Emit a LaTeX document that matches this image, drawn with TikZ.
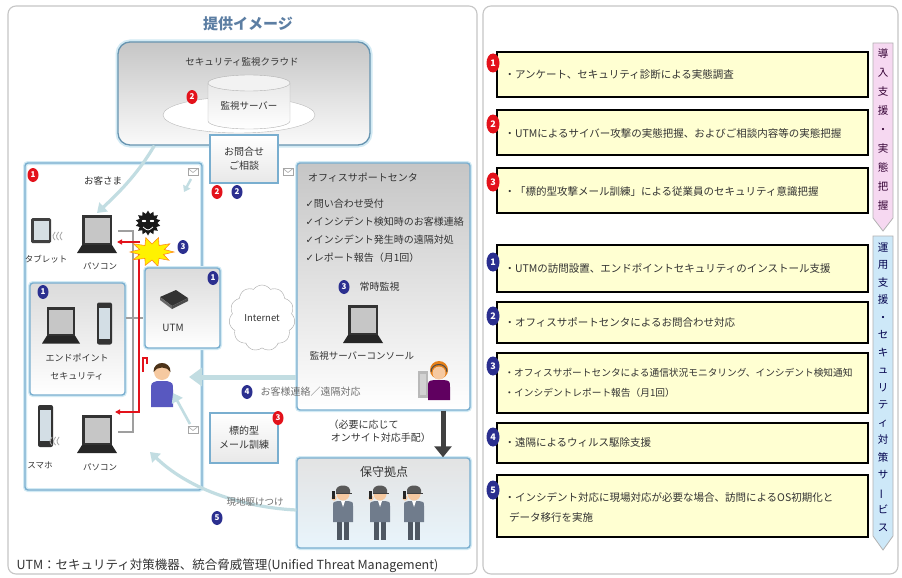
\documentclass[tikz,border=0pt]{standalone}
\usepackage{fontspec}
\setmainfont{Noto Sans CJK JP}
\newfontfamily\symf{DejaVu Sans}
\usetikzlibrary{arrows.meta,shapes.geometric,shapes.symbols,calc}

\definecolor{bred}{HTML}{E3121B}
\definecolor{bblue}{HTML}{2B2F8F}
\definecolor{edge}{HTML}{79AECF}
\definecolor{glow}{HTML}{D2EAF4}
\definecolor{flow}{HTML}{C2DDE2}
\definecolor{ttl}{HTML}{5C7EA3}
\definecolor{notefill}{HTML}{FFFFD2}
\definecolor{txt}{HTML}{333333}
\definecolor{skin}{HTML}{F6C9A0}
\definecolor{suit}{HTML}{707C8C}
\definecolor{pinktag}{HTML}{F6D8F1}
\definecolor{bluetag}{HTML}{CDE8F8}

\tikzset{
  fs/.style 2 args={font=\fontsize{#1}{#2}\selectfont},
  badge/.style={ellipse, fill=#1, text=white, inner sep=0pt,
    minimum width=11pt, minimum height=14pt, font=\fontsize{8}{8}\selectfont\bfseries},
  rbadge/.style={badge=#1, minimum width=13pt, minimum height=19pt,
    font=\fontsize{9}{9}\selectfont\bfseries},
  panel/.style={draw=gray!45, line width=1.1pt, rounded corners=8pt, fill=white},
  grpbox/.style={draw=edge, line width=1.4pt, rounded corners=3pt,
    preaction={draw=glow, line width=4pt}},
  smallbox/.style={draw=edge, line width=1.4pt, top color=white, bottom color=gray!18,
    align=center, fs={10}{14}},
  notebox/.style={draw=black, line width=2pt, fill=notefill},
  notetext/.style={anchor=west, align=left, fs={10.5}{20}, text=txt},
  flowarrow/.style={draw=flow, line width=3.2pt, -{Triangle[length=9pt,width=12pt]}},
  laptop/.pic={
    \fill[black!80] (-15,-28) rectangle (15,2);
    \fill[gray!45] (-12.5,-25.5) rectangle (12.5,0);
    \fill[black!85] (-15,2) -- (15,2) -- (20,10) -- (-20,10) -- cycle;
  },
  phone/.pic={
    \fill[black!80, rounded corners=2pt] (-7.5,-21) rectangle (7.5,21);
    \fill[bluetag!70!gray!60] (-5.5,-16) rectangle (5.5,15);
  },
  envelope/.pic={
    \draw[gray!70, fill=white, line width=0.6pt] (-5,-3.5) rectangle (5,3.5);
    \draw[gray!70, line width=0.6pt] (-5,-3.5) -- (0,0.5) -- (5,-3.5);
  },
  waves/.pic={
    \foreach \i in {0,3.5,7}
      \draw[gray!70, line width=0.8pt] ({\i+5*cos(125)},{5*sin(125)}) arc[start angle=125, end angle=235, radius=5];
  },
  staff/.pic={
    \fill[suit!70!black] (-6,18) rectangle (-1,46);
    \fill[suit!70!black] (1,18) rectangle (6,46);
    \fill[suit] (-10,28) -- (-10,12) .. controls (-10,8) .. (-5,7) -- (5,7) .. controls (10,8) .. (10,12) -- (10,28) -- cycle;
    \fill[white] (-2,7) -- (2,7) -- (0,13) -- cycle;
    \fill[skin] (0,0) circle (6.5);
    \fill[black!65] (-7,-1) -- (-7,-4) .. controls (-6,-10) and (6,-10) .. (7,-4) -- (7,-1) -- cycle;
    \fill[black!75] (-7,-1.5) rectangle (9,0.3);
    \fill[skin] (-9,4) circle (2.6);
    \fill[black!85] (-11,-3) rectangle (-8,5);
  }
}

\begin{document}
\begin{tikzpicture}[x=1pt, y=-1pt, fs={10}{12}, text=txt]
\useasboundingbox (0,0) rectangle (902,578);
\fill[white] (0,0) rectangle (902,578);

% ---------- two panels ----------
\node[panel, minimum width=469, minimum height=568] (leftpanel) at (242.5,290) {};
\node[panel, minimum width=415, minimum height=568] (rightpanel) at (690.5,290) {};

\node[font={\fontsize{15}{15}\selectfont\bfseries}, text=ttl] (title) at (248,24) {提供イメージ};

% ---------- security monitoring cloud ----------
\node[draw=edge!85!black, line width=1.3pt, rounded corners=12pt, top color=gray!45, bottom color=gray!4,
      preaction={draw=glow, line width=5pt}, minimum width=252, minimum height=103] (cloud) at (244,93.5) {};
\node[fs={9.5}{10}] (cloudlbl) at (242,62) {セキュリティ監視クラウド};
\node[ellipse, draw=gray!55, fill=white, minimum width=152, minimum height=36] (dish) at (239,115) {};
\path[draw=gray!60, top color=gray!18, bottom color=white]
  (208,83) -- (208,121) arc[start angle=180, end angle=0, x radius=41, y radius=8] -- (290,83) -- cycle;
\draw[gray!60, fill=gray!10] (249,83) ellipse [x radius=41, y radius=8];
\node[fs={9.5}{10}] (server) at (249,106) {監視サーバー};
\node[badge=bred] (r2a) at (192,97) {2};

% ---------- inquiry box ----------
\node[smallbox, minimum width=68, minimum height=48] (inq) at (244,159) {お問合せ\\ご相談};
\node[badge=bred] (r2b) at (217,192) {2};
\node[badge=bblue] (b2a) at (237,192) {2};

% ---------- customer site ----------
\node[grpbox, minimum width=177, minimum height=327] (cust) at (113.5,326.5) {};
\node[badge=bred] (r1a) at (33,175) {1};
\node[fs={9.5}{10}] (custlbl) at (103,181) {お客さま};

% tablet and PC
\fill[black!75, rounded corners=1.5pt] (31,218) rectangle (51,243);
\fill[bluetag!60!gray!50] (33.5,221) rectangle (48.5,240);
\pic at (58,236) {waves};
\pic at (97,243) {laptop};
\coordinate (pc1) at (97,213);
\node[fs={8.5}{9}] (tabletlbl) at (46,259) {タブレット};
\node[fs={8.5}{9}] (pc1lbl) at (100,266) {パソコン};

% endpoint security
\node[grpbox, top color=gray!28, bottom color=white, minimum width=95, minimum height=112] (endp) at (77.5,339) {};
\node[badge=bblue] (b1a) at (43,292) {1};
\pic[scale=0.95] at (61,334) {laptop};
\pic at (104.5,323.5) {phone};
\node[fs={9}{18}, align=center] (endplbl) at (77,367) {エンドポイント\\セキュリティ};

% smartphone and PC at the bottom
\pic at (45.5,426) {phone};
\pic at (55,441) {waves};
\pic at (97,443) {laptop};
\coordinate (pc2) at (118,432);
\node[fs={8.5}{9}] (phonelbl) at (40,465) {スマホ};
\node[fs={8.5}{9}] (pc2lbl) at (100,467) {パソコン};

% cabling and attack path
\draw[gray!75, line width=1.4pt] (118,231) -- (133,231) -- (133,432) -- (pc2);
\draw[gray!75, line width=1.4pt] (endp.east |- 0,318) -- (145,318);
\draw[bred, line width=1.4pt, -{Triangle[length=5pt,width=5pt]}] (140,242) -- (117,242);
\draw[bred, line width=1.4pt, -{Triangle[length=5pt,width=5pt]}] (139,250) -- (139,412) -- (115,412);
\draw[bred, line width=1.2pt] (143,372) -- (143,358) -- (147,358) -- (147,364);

% virus
\node[star, star points=14, star point ratio=1.35, fill=black!90, minimum size=25pt, inner sep=0pt] (virus) at (148,223) {};
\fill[white] (144,221) ellipse [x radius=2.2, y radius=1.1];
\fill[white] (152,221) ellipse [x radius=2.2, y radius=1.1];
\draw[white, line width=0.8pt] (143,227) .. controls (148,231) .. (153,227);

% explosion
\filldraw[fill=yellow, draw=orange!90, line width=0.6pt]
  (174,252) -- ({152+12*cos(18)},{252+8*sin(18)}) -- ({152+21*cos(36)},{252+14*sin(36)})
  -- ({152+12*cos(54)},{252+8*sin(54)}) -- ({152+19*cos(72)},{252+15*sin(72)})
  -- ({152+12*cos(90)},{252+8*sin(90)}) -- ({152+22*cos(108)},{252+14*sin(108)})
  -- ({152+12*cos(126)},{252+8*sin(126)}) -- ({152+23*cos(144)},{252+13*sin(144)})
  -- ({152+13*cos(162)},{252+8*sin(162)}) -- ({152+22*cos(180)},{252+12*sin(180)})
  -- ({152+13*cos(198)},{252+8*sin(198)}) -- ({152+23*cos(216)},{252+14*sin(216)})
  -- ({152+12*cos(234)},{252+8*sin(234)}) -- ({152+20*cos(252)},{252+15*sin(252)})
  -- ({152+12*cos(270)},{252+8*sin(270)}) -- ({152+21*cos(288)},{252+15*sin(288)})
  -- ({152+12*cos(306)},{252+8*sin(306)}) -- ({152+22*cos(324)},{252+14*sin(324)})
  -- ({152+13*cos(342)},{252+8*sin(342)}) -- cycle;
\node[badge=bblue] (b3a) at (183,247) {3};

% UTM
\node[grpbox, top color=gray!28, bottom color=white, minimum width=75, minimum height=80] (utm) at (182.5,308) {};
\node[badge=bblue] (b1b) at (213,278) {1};
\fill[black!80] (160,297) -- (176,290) -- (188,298) -- (172,306) -- cycle;
\fill[black!60] (160,297) -- (172,306) -- (172,309) -- (160,300) -- cycle;
\fill[black!70] (172,306) -- (188,298) -- (188,301) -- (172,309) -- cycle;
\node[fs={10}{10}] (utmlbl) at (173,328) {UTM};

% Internet
\node[cloud, cloud puffs=11, cloud puff arc=110, aspect=1.1, draw=gray!70, fill=white,
      minimum width=66, minimum height=66, fs={9.5}{10}] (inet) at (262,318) {Internet};

% customer user
\fill[blue!45!gray!90] (151,407) -- (151,390) .. controls (151,383) .. (157,381) -- (167,381) .. controls (173,383) .. (173,390) -- (173,407) -- cycle;
\fill[skin] (162,372) circle (8);
\fill[brown!40!black] (153.5,372) .. controls (153,360) and (171,360) .. (170.5,372) .. controls (167,366) and (157,366) .. cycle;
\coordinate (user) at (189,377);
\coordinate (userlow) at (173,393);

% ---------- office support centre ----------
\node[grpbox, top color=gray!45, bottom color=white, minimum width=173, minimum height=247] (osc) at (383.5,286.5) {};
\node[fs={10}{10}] (osclbl) at (363,178) {オフィスサポートセンタ};
\node[fs={10}{18}, align=left, anchor=north west] (osclist) at (302,196)
  {{\symf ✓}問い合わせ受付\\{\symf ✓}インシデント検知時のお客様連絡\\{\symf ✓}インシデント発生時の遠隔対処\\{\symf ✓}レポート報告（月1回）};
\node[badge=bblue] (b3b) at (344,287) {3};
\node[fs={10}{10}, anchor=west] (monlbl) at (356,287) {常時監視};
\pic at (363,333) {laptop};
\node[fs={9.5}{10}] (consolelbl) at (362,356) {監視サーバーコンソール};
% operator at the console
\fill[gray!55] (418,371) rectangle (428,398);
\fill[gray!35] (420,374) rectangle (426,395);
\fill[violet!75!black] (428,400) -- (428,388) .. controls (428,381) .. (434,380) -- (444,380) .. controls (450,381) .. (450,388) -- (450,400) -- cycle;
\fill[orange!60!brown] (439,370) circle (9);
\fill[skin] (439,373) circle (6.5);
\draw[black!70, line width=1pt] (431,372) .. controls (431,362) and (447,362) .. (447,372);

% envelopes
\pic at (193,172) {envelope};
\pic at (288,172) {envelope};
\pic at (193,430) {envelope};
\coordinate (env1) at (191,179);
\coordinate (env3) at (190,424);

% ---------- targeted mail drill ----------
\node[smallbox, minimum width=68, minimum height=50] (drill) at (244,438) {標的型\\メール訓練};
\node[badge=bred] (r3a) at (278,418) {3};

% ---------- maintenance base ----------
\node[grpbox, top color=gray!22, bottom color=bluetag!45, minimum width=173, minimum height=90] (maint) at (383.5,503) {};
\node[fs={12}{12}] (maintlbl) at (384,472) {保守拠点};
\pic at (343,494) {staff};
\pic at (380,494) {staff};
\pic at (414,494) {staff};

% ---------- flows ----------
\draw[flowarrow] ([xshift=37pt]cloud.south west) .. controls (140,170) and (124,188) .. (pc1);
\draw[flowarrow, line width=2.4pt, -{Triangle[length=6pt,width=8pt]}] (env1) -- (184,192);
\draw[flowarrow, line width=5pt, -{Triangle[length=13pt,width=18pt]}] (osc.west |- user) -- (user);
\node[badge=bblue] (b4a) at (247,392) {4};
\node[fs={10}{10}, anchor=west, text=txt!70] (b4lbl) at (257,392) {お客様連絡／遠隔対応};
\draw[flowarrow, line width=2.6pt] (env3) -- (userlow);
\draw[flowarrow] ([yshift=-7pt]maint.west) .. controls (255,508) and (195,495) .. (150,452);
\node[fs={9.5}{10}, text=txt!70] (b5lbl) at (255,502) {現地駆けつけ};
\node[badge=bblue] (b5a) at (217,518) {5};
\draw[black!75, line width=5pt, -{Triangle[length=11pt,width=17pt]}] ([xshift=59.5pt]osc.south) -- ([xshift=59.5pt]maint.north);
\node[fs={10}{13}, align=left, anchor=west] (onsite) at (325,431) {（必要に応じて\\\ オンサイト対応手配）};

% footnote
\node[fs={12.5}{13}, anchor=west] (foot) at (13,566) {UTM：セキュリティ対策機器、統合脅威管理(Unified Threat Management)};

% ---------- right panel: service list ----------
\node[notebox, minimum width=371, minimum height=45] (n1) at (682.5,74.5) {};
\node[notebox, minimum width=371, minimum height=45] (n2) at (682.5,132.5) {};
\node[notebox, minimum width=371, minimum height=45] (n3) at (682.5,190.5) {};
\node[notebox, minimum width=371, minimum height=47] (n4) at (682.5,268.5) {};
\node[notebox, minimum width=371, minimum height=41] (n5) at (682.5,322.5) {};
\node[notebox, minimum width=371, minimum height=60] (n6) at (682.5,383) {};
\node[notebox, minimum width=371, minimum height=40] (n7) at (682.5,443) {};
\node[notebox, minimum width=371, minimum height=62] (n8) at (682.5,506) {};

\node[notetext] (t1) at (501,75) {・アンケート、セキュリティ診断による実態調査};
\node[notetext] (t2) at (501,133) {・UTMによるサイバー攻撃の実態把握、およびご相談内容等の実態把握};
\node[notetext] (t3) at (501,192) {・「標的型攻撃メール訓練」による従業員のセキュリティ意識把握};
\node[notetext] (t4) at (501,268) {・UTMの訪問設置、エンドポイントセキュリティのインストール支援};
\node[notetext] (t5) at (501,322) {・オフィスサポートセンタによるお問合わせ対応};
\node[notetext, fs={9.7}{20}] (t6) at (501,383) {・オフィスサポートセンタによる通信状況モニタリング、インシデント検知通知\\・インシデントレポート報告（月1回）};
\node[notetext] (t7) at (501,443) {・遠隔によるウィルス駆除支援};
\node[notetext] (t8) at (501,507) {・インシデント対応に現場対応が必要な場合、訪問によるOS初期化と\\\ \ データ移行を実施};

\node[rbadge=bred] (rr1) at (493,63) {1};
\node[rbadge=bred] (rr2) at (493,124) {2};
\node[rbadge=bred] (rr3) at (493,182) {3};
\node[rbadge=bblue] (rb1) at (493,262) {1};
\node[rbadge=bblue] (rb2) at (493,316) {2};
\node[rbadge=bblue] (rb3) at (493,366) {3};
\node[rbadge=bblue] (rb4) at (493,437) {4};
\node[rbadge=bblue] (rb5) at (493,490) {5};

% phase tags
\path[draw=gray!60, line width=0.8pt, fill=pinktag] (873,43) -- (893,43) -- (893,218) -- (883,231) -- (873,218) -- cycle;
\node[fs={10.5}{19}, align=center, text=violet!40!black] (tag1) at (883,130) {導\\入\\支\\援\\・\\実\\態\\把\\握};
\path[draw=gray!60, line width=0.8pt, fill=bluetag] (873,236) -- (893,236) -- (893,536) -- (883,550) -- (873,536) -- cycle;
\node[fs={10.5}{17.5}, align=center, text=blue!30!black] (tag2) at (883,387) {運\\用\\支\\援\\・\\セ\\キ\\ュ\\リ\\テ\\ィ\\対\\策\\サ\\\rotatebox[origin=c]{90}{ー}\\ビ\\ス};

\end{tikzpicture}
\end{document}
